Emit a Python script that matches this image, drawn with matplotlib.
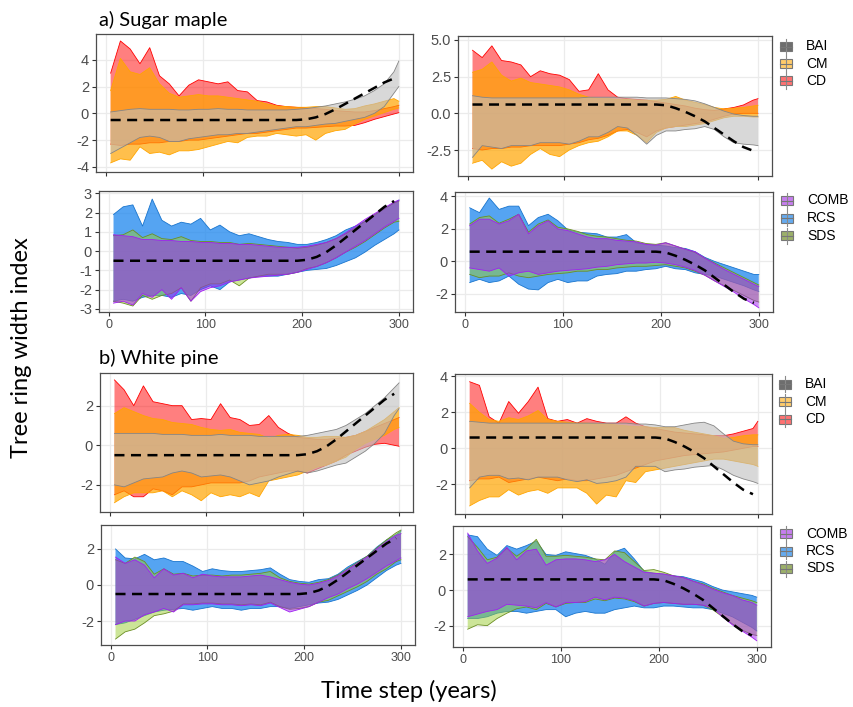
import matplotlib
matplotlib.use("Agg")
import matplotlib.pyplot as plt
from matplotlib.patches import Rectangle
from matplotlib.lines import Line2D

# --- datos (x cada 10 anos + 300) ---
X = [5, 15, 25, 35, 45, 55, 65, 75, 85, 95, 105, 115, 125, 135, 145, 155,
     165, 175, 185, 195, 205, 215, 225, 235, 245, 255, 265, 275, 285, 295, 300]

# senal verdadera (linea discontinua), de 5 a 295
TRUE_LEFT = [-0.5, -0.5, -0.5, -0.5, -0.5, -0.5, -0.5, -0.5, -0.5, -0.5,
             -0.5, -0.5, -0.5, -0.5, -0.5, -0.5, -0.5, -0.5, -0.5, -0.5,
             -0.45, -0.3, -0.05, 0.3, 0.7, 1.1, 1.5, 1.9, 2.3, 2.6]
TRUE_RIGHT = [0.6, 0.6, 0.6, 0.6, 0.6, 0.6, 0.6, 0.6, 0.6, 0.6,
              0.6, 0.6, 0.6, 0.6, 0.6, 0.6, 0.6, 0.6, 0.6, 0.6,
              0.55, 0.35, 0.1, -0.2, -0.55, -1.0, -1.45, -1.9, -2.3, -2.55]

# a) Sugar maple, arriba izquierda
p1_cd_hi = [3.0, 5.4, 4.8, 3.7, 4.9, 2.8, 2.2, 1.3, 2.1, 2.5, 2.35, 2.2, 2.35, 1.7, 1.6, 0.95,
            0.85, 0.6, 0.5, 0.45, 0.4, 0.35, 0.3, 0.2, 0.15, 0.1, 0.1, 0.2, 0.35, 0.5, 0.6]
p1_cd_lo = [-2.3, -2.4, -2.3, -2.3, -2.2, -2.2, -2.1, -2.1, -2.0, -2.0, -1.9, -1.8, -1.7, -1.6, -1.5, -1.5,
            -1.4, -1.3, -1.2, -1.1, -1.1, -1.05, -1.0, -0.95, -0.95, -0.9, -0.7, -0.45, -0.25, -0.05, 0.05]
p1_cm_hi = [1.7, 4.1, 3.1, 2.9, 3.4, 2.2, 1.5, 1.2, 1.3, 1.4, 1.3, 1.3, 1.2, 1.1, 1.0, 0.9,
            0.7, 0.55, 0.5, 0.45, 0.45, 0.5, 0.5, 0.4, 0.3, 0.35, 0.55, 0.7, 0.9, 1.1, 0.9]
p1_cm_lo = [-3.7, -3.4, -3.5, -2.5, -3.0, -2.9, -3.1, -2.8, -2.8, -2.7, -2.5, -2.3, -2.1, -2.2, -1.8, -1.7,
            -1.7, -1.5, -1.6, -1.7, -1.6, -2.0, -1.5, -1.3, -1.2, -0.8, -0.45, -0.2, 0.05, 0.3, 0.4]
p1_bai_hi = [0.1, 0.2, 0.3, 0.35, 0.3, 0.3, 0.3, 0.25, 0.25, 0.3, 0.3, 0.35, 0.3, 0.3, 0.25, 0.25,
             0.25, 0.25, 0.25, 0.3, 0.35, 0.45, 0.55, 0.7, 0.85, 1.05, 1.3, 1.7, 2.2, 3.1, 3.9]
p1_bai_lo = [-3.0, -2.6, -2.2, -1.8, -1.7, -1.8, -2.1, -2.1, -1.9, -1.8, -1.7, -1.6, -1.6, -1.5, -1.5, -1.4,
             -1.3, -1.2, -1.1, -1.0, -1.0, -0.9, -0.8, -0.75, -0.6, -0.45, -0.3, 0.0, 0.5, 1.5, 2.0]

# a) Sugar maple, arriba derecha
p2_cd_hi = [4.3, 3.8, 4.6, 3.6, 3.5, 3.3, 2.5, 2.9, 2.7, 2.6, 2.3, 1.5, 1.6, 2.7, 1.6, 1.1,
            1.0, 0.95, 0.9, 0.8, 0.7, 0.6, 0.5, 0.35, 0.25, 0.2, 0.3, 0.4, 0.57, 0.9, 1.0]
p2_cd_lo = [-2.4, -2.5, -2.4, -2.4, -2.3, -2.3, -2.2, -2.2, -2.2, -2.2, -2.1, -2.0, -1.8, -1.7, -1.5, -1.2,
            -1.1, -1.3, -1.6, -1.2, -1.0, -0.9, -0.8, -0.7, -0.6, -0.4, -0.2, -0.05, 0.0, 0.0, 0.0]
p2_cm_hi = [2.8, 3.0, 3.5, 2.6, 2.2, 2.4, 2.1, 2.0, 1.9, 1.8, 1.6, 1.3, 1.1, 1.0, 1.0, 0.95,
            0.95, 0.9, 0.9, 0.9, 0.95, 1.15, 0.9, 0.75, 0.6, 0.4, 0.3, 0.35, 0.4, 0.5, 0.55]
p2_cm_lo = [-3.4, -3.2, -3.8, -3.3, -3.6, -3.4, -2.8, -2.4, -2.8, -2.95, -2.5, -2.2, -2.0, -1.9, -1.6, -1.2,
            -1.2, -1.5, -2.0, -1.3, -1.0, -0.9, -0.9, -0.8, -0.7, -0.5, -0.3, -0.2, -0.2, -0.25, -0.25]
p2_bai_hi = [1.2, 1.1, 1.05, 1.05, 1.05, 1.05, 1.05, 1.05, 1.05, 1.05, 1.05, 1.05, 1.1, 1.1, 1.1, 1.1,
             1.1, 1.1, 1.05, 1.05, 1.05, 1.0, 0.95, 0.85, 0.65, 0.4, 0.15, -0.05, -0.15, -0.2, -0.2]
p2_bai_lo = [-3.0, -2.2, -2.3, -2.4, -2.2, -2.2, -2.2, -2.0, -2.0, -2.0, -2.1, -1.9, -1.6, -1.6, -1.3, -0.9,
             -1.0, -1.5, -2.1, -1.5, -1.2, -1.2, -1.1, -1.05, -0.9, -1.1, -1.6, -2.0, -2.1, -2.15, -2.2]

# a) Sugar maple, abajo izquierda
p3_rcs_hi = [1.9, 2.3, 2.4, 1.3, 2.7, 1.6, 1.3, 1.5, 1.4, 1.7, 1.1, 1.35, 1.0, 0.8, 0.9, 0.75,
             0.6, 0.5, 0.45, 0.35, 0.35, 0.45, 0.6, 0.8, 1.1, 1.3, 1.55, 1.85, 2.2, 2.5, 2.65]
p3_rcs_lo = [-2.6, -2.5, -2.6, -2.4, -2.3, -2.3, -2.4, -2.2, -2.3, -2.0, -1.8, -2.0, -1.6, -1.5, -1.4, -1.3,
             -1.3, -1.3, -1.2, -1.1, -1.0, -0.95, -0.9, -0.75, -0.55, -0.35, -0.05, 0.3, 0.6, 0.9, 1.1]
p3_sds_hi = [0.8, 0.85, 1.1, 0.7, 0.9, 0.65, 0.6, 0.75, 0.55, 0.5, 0.5, 0.45, 0.45, 0.35, 0.4, 0.35,
             0.3, 0.25, 0.2, 0.15, 0.2, 0.3, 0.45, 0.65, 0.9, 1.2, 1.55, 1.9, 2.2, 2.5, 2.6]
p3_sds_lo = [-2.6, -2.7, -2.85, -2.3, -2.5, -2.3, -2.2, -1.9, -2.6, -1.9, -1.7, -1.7, -1.5, -1.8, -1.4, -1.3,
             -1.2, -1.2, -1.2, -1.1, -0.9, -0.8, -0.6, -0.35, -0.05, 0.2, 0.5, 0.85, 1.2, 1.5, 1.55]
p3_comb_hi = [0.85, 0.8, 0.75, 0.6, 0.6, 0.55, 0.55, 0.5, 0.5, 0.45, 0.45, 0.4, 0.4, 0.35, 0.35, 0.3,
              0.25, 0.2, 0.2, 0.2, 0.25, 0.35, 0.45, 0.65, 0.95, 1.3, 1.65, 1.95, 2.25, 2.55, 2.65]
p3_comb_lo = [-2.7, -2.6, -2.8, -2.2, -2.4, -2.0, -2.5, -1.9, -2.6, -2.1, -1.9, -1.8, -1.6, -1.5, -1.4, -1.35,
              -1.3, -1.25, -1.2, -1.1, -0.95, -0.8, -0.6, -0.35, -0.05, 0.25, 0.55, 0.9, 1.25, 1.55, 1.7]

# a) Sugar maple, abajo derecha
p4_rcs_hi = [3.3, 3.0, 3.9, 3.2, 3.4, 3.4, 2.2, 2.7, 2.9, 2.5, 1.95, 1.8, 1.75, 1.7, 1.5, 1.5,
             1.65, 1.15, 1.05, 1.0, 0.95, 0.85, 0.8, 0.6, 0.25, 0.0, -0.2, -0.4, -0.6, -0.8, -0.8]
p4_rcs_lo = [-1.3, -1.1, -1.3, -1.2, -0.9, -1.4, -1.7, -1.75, -1.3, -1.1, -1.3, -1.2, -1.2, -0.9, -0.8, -0.75,
             -0.6, -0.6, -0.5, -0.45, -0.3, -0.45, -0.5, -0.7, -0.8, -0.9, -1.1, -1.3, -1.5, -1.75, -1.85]
p4_sds_hi = [2.3, 2.7, 2.8, 2.35, 2.6, 2.9, 1.8, 2.3, 2.55, 2.1, 2.0, 1.85, 1.65, 1.55, 1.5, 1.4,
             1.3, 1.25, 1.1, 1.05, 1.15, 0.95, 0.75, 0.55, 0.2, -0.1, -0.4, -0.7, -1.0, -1.3, -1.45]
p4_sds_lo = [-0.8, -1.0, -0.9, -0.9, -0.7, -0.9, -1.0, -0.9, -0.8, -0.75, -0.7, -0.6, -0.6, -0.5, -0.5, -0.4,
             -0.35, -0.3, -0.3, -0.25, -0.2, -0.3, -0.4, -0.6, -0.85, -1.2, -1.5, -1.8, -2.1, -2.4, -2.5]
p4_comb_hi = [2.2, 2.6, 2.6, 2.3, 2.5, 2.9, 1.7, 2.2, 2.5, 2.0, 1.9, 1.7, 1.5, 1.4, 1.4, 1.3,
              1.25, 1.2, 1.05, 1.0, 1.15, 0.95, 0.75, 0.6, 0.2, -0.15, -0.5, -0.8, -1.1, -1.4, -1.55]
p4_comb_lo = [-0.4, -0.5, -0.6, -0.4, -0.9, -0.7, -0.6, -0.8, -0.7, -0.6, -0.55, -0.5, -0.45, -0.35, -0.3, -0.2,
              -0.15, -0.1, -0.1, -0.05, -0.1, -0.2, -0.35, -0.55, -0.85, -1.2, -1.55, -1.9, -2.3, -2.65, -2.85]

# b) White pine, arriba izquierda
p5_cd_hi = [3.3, 2.8, 2.0, 3.0, 2.2, 2.1, 2.0, 2.0, 1.3, 1.35, 1.3, 2.1, 1.4, 1.3, 1.0, 1.05,
            1.5, 0.9, 0.6, 0.4, 0.35, 0.3, 0.3, 0.35, 0.4, 0.5, 0.7, 0.9, 1.1, 1.3, 1.4]
p5_cd_lo = [-2.5, -2.3, -2.6, -2.6, -2.2, -2.3, -2.5, -2.1, -2.1, -2.0, -1.9, -1.9, -1.9, -1.9, -1.8, -1.6,
            -1.5, -1.4, -1.3, -1.3, -1.4, -1.2, -1.0, -0.8, -0.5, -0.3, -0.1, 0.05, 0.1, 0.0, -0.05]
p5_cm_hi = [1.6, 1.9, 1.7, 1.5, 1.35, 1.3, 1.15, 1.1, 1.05, 0.9, 0.8, 0.75, 0.8, 0.65, 0.6, 0.55,
            0.35, 0.5, 0.55, 0.5, 0.4, 0.4, 0.45, 0.45, 0.4, 0.5, 0.7, 1.0, 1.3, 1.7, 1.9]
p5_cm_lo = [-2.9, -2.6, -2.4, -2.4, -2.4, -2.3, -2.6, -2.3, -2.5, -2.8, -2.4, -2.6, -2.5, -2.6, -2.4, -2.6,
            -1.8, -1.7, -1.6, -1.5, -1.3, -1.1, -1.0, -0.8, -0.6, -0.2, 0.1, 0.3, 0.5, 0.8, 0.9]
p5_bai_hi = [0.6, 0.6, 0.6, 0.6, 0.6, 0.55, 0.55, 0.55, 0.5, 0.5, 0.5, 0.55, 0.5, 0.5, 0.5, 0.45,
             0.45, 0.45, 0.45, 0.45, 0.5, 0.6, 0.7, 0.8, 1.0, 1.3, 1.6, 2.0, 2.4, 2.9, 3.15]
p5_bai_lo = [-2.0, -2.1, -1.9, -1.7, -1.65, -1.6, -1.4, -1.3, -1.4, -1.6, -1.55, -1.5, -1.6, -1.8, -2.0, -1.9,
             -1.8, -1.6, -1.45, -1.3, -1.4, -1.3, -1.15, -1.0, -0.9, -0.6, -0.3, 0.1, 0.6, 1.5, 1.85]

# b) White pine, arriba derecha
p6_cd_hi = [3.7, 3.5, 1.75, 1.4, 2.6, 1.95, 2.6, 3.4, 1.65, 1.5, 1.6, 1.4, 1.65, 1.5, 1.4, 1.4,
            1.75, 1.4, 1.2, 1.1, 1.0, 0.9, 0.85, 0.8, 0.75, 0.7, 0.7, 0.8, 0.95, 1.1, 1.5]
p6_cd_lo = [-1.8, -1.7, -1.7, -1.6, -1.9, -1.8, -1.7, -1.6, -1.7, -1.8, -1.7, -1.8, -1.8, -1.7, -1.6, -1.5,
            -1.3, -1.1, -0.9, -0.7, -0.6, -0.5, -0.4, -0.35, -0.3, -0.25, -0.2, -0.1, 0.0, 0.1, 0.1]
p6_cm_hi = [2.5, 2.0, 1.6, 1.5, 1.7, 1.6, 1.8, 2.1, 1.6, 1.5, 1.45, 1.4, 1.4, 1.35, 1.35, 1.3,
            1.25, 1.2, 1.2, 1.15, 1.15, 1.15, 1.0, 0.9, 0.8, 0.7, 0.55, 0.6, 0.7, 0.75, 0.75]
p6_cm_lo = [-3.2, -2.9, -2.7, -2.7, -2.3, -2.6, -2.4, -2.3, -2.5, -2.2, -2.2, -2.2, -2.5, -3.1, -2.6, -2.7,
            -1.8, -1.9, -1.3, -1.2, -1.1, -1.0, -0.9, -0.8, -0.7, -0.6, -0.6, -0.7, -0.8, -0.9, -1.0]
p6_bai_hi = [1.5, 1.45, 1.4, 1.4, 1.4, 1.4, 1.4, 1.4, 1.4, 1.4, 1.4, 1.4, 1.4, 1.4, 1.4, 1.4,
             1.4, 1.35, 1.35, 1.3, 1.2, 1.2, 1.3, 1.4, 1.45, 1.25, 0.8, 0.4, 0.25, 0.2, 0.2]
p6_bai_lo = [-2.2, -1.6, -1.5, -1.5, -1.7, -1.65, -1.75, -1.6, -1.6, -1.6, -1.75, -1.85, -1.75, -1.95, -1.9, -1.8,
             -1.6, -1.0, -1.0, -1.0, -1.3, -1.2, -1.15, -1.05, -1.0, -0.95, -1.2, -1.5, -1.7, -1.85, -1.95]

# b) White pine, abajo izquierda
p7_rcs_hi = [2.0, 1.5, 1.45, 1.7, 1.4, 1.5, 1.3, 1.3, 1.05, 0.75, 0.9, 0.8, 0.75, 0.75, 0.8, 0.85,
             0.95, 0.6, 0.3, 0.2, 0.15, 0.3, 0.35, 0.6, 1.0, 1.3, 1.6, 2.1, 2.5, 2.8, 3.0]
p7_rcs_lo = [-2.2, -2.1, -1.9, -1.7, -1.5, -1.4, -1.35, -1.3, -1.4, -1.3, -1.2, -1.3, -1.3, -1.4, -1.3, -1.3,
             -1.2, -1.2, -1.3, -1.2, -1.1, -1.0, -0.95, -0.8, -0.55, -0.3, 0.0, 0.4, 0.8, 1.1, 1.2]
p7_sds_hi = [1.4, 1.2, 1.55, 1.3, 0.6, 0.9, 0.6, 0.65, 0.5, 0.55, 0.55, 0.5, 0.55, 0.55, 0.6, 0.65,
             0.75, 0.4, 0.2, 0.1, 0.05, 0.15, 0.3, 0.55, 0.9, 1.25, 1.6, 2.05, 2.5, 2.9, 3.05]
p7_sds_lo = [-3.0, -2.6, -2.45, -2.1, -1.7, -1.6, -1.45, -1.05, -1.05, -1.0, -1.0, -1.05, -1.05, -1.1, -1.05, -1.1,
             -0.95, -1.2, -1.35, -1.3, -1.2, -0.95, -0.85, -0.6, -0.35, -0.1, 0.2, 0.6, 0.9, 1.3, 1.4]
p7_comb_hi = [1.55, 1.2, 1.4, 1.1, 0.4, 0.9, 0.55, 0.65, 0.4, 0.6, 0.5, 0.45, 0.45, 0.45, 0.5, 0.55,
              0.45, 0.3, 0.15, 0.05, 0.0, 0.1, 0.25, 0.5, 0.85, 1.2, 1.55, 2.0, 2.4, 2.75, 2.85]
p7_comb_lo = [-2.2, -2.0, -2.0, -1.65, -1.5, -1.3, -1.5, -1.1, -1.1, -1.05, -1.05, -1.1, -1.1, -1.15, -1.1, -1.15,
              -1.0, -1.25, -1.5, -1.35, -1.2, -0.95, -0.7, -0.5, -0.2, 0.05, 0.35, 0.7, 1.05, 1.35, 1.5]

# b) White pine, abajo derecha
p8_rcs_hi = [3.1, 3.0, 2.3, 1.95, 2.5, 2.3, 2.5, 2.75, 2.0, 1.95, 2.15, 2.05, 1.95, 1.75, 1.45, 2.15,
             2.35, 1.75, 1.05, 0.95, 0.9, 0.8, 0.75, 0.6, 0.45, 0.2, 0.0, -0.1, -0.2, -0.3, -0.4]
p8_rcs_lo = [-1.6, -1.6, -1.5, -1.3, -1.2, -1.2, -1.3, -1.2, -1.1, -1.1, -1.5, -1.3, -1.2, -1.3, -1.3, -1.1,
             -1.0, -0.9, -1.0, -1.0, -0.9, -0.9, -0.95, -1.0, -1.0, -1.1, -1.3, -1.5, -1.8, -2.1, -2.3]
p8_sds_hi = [3.0, 2.4, 1.7, 1.85, 2.35, 1.9, 2.3, 2.85, 1.9, 1.9, 1.95, 1.9, 1.85, 1.75, 1.7, 2.2,
             2.1, 1.6, 1.1, 1.15, 1.0, 0.8, 0.7, 0.5, 0.35, 0.1, -0.1, -0.3, -0.45, -0.6, -0.7]
p8_sds_lo = [-2.2, -1.95, -2.0, -1.6, -1.3, -1.05, -0.95, -1.1, -0.75, -0.95, -0.75, -0.7, -0.7, -0.5, -0.6, -0.45,
             -0.5, -0.65, -0.9, -0.75, -0.7, -0.75, -0.8, -0.8, -0.85, -1.1, -1.5, -1.9, -2.25, -2.5, -2.55]
p8_comb_hi = [3.2, 2.2, 1.5, 1.8, 2.4, 1.7, 2.2, 2.3, 1.4, 1.7, 1.75, 1.75, 1.7, 1.6, 1.7, 2.0,
              1.6, 1.3, 1.0, 0.95, 0.9, 0.8, 0.7, 0.5, 0.3, 0.05, -0.15, -0.3, -0.55, -0.7, -0.85]
p8_comb_lo = [-1.5, -1.35, -1.2, -1.1, -0.8, -0.85, -0.9, -1.0, -0.7, -0.95, -0.7, -0.7, -0.65, -0.4, -0.55, -0.4,
              -0.45, -0.6, -0.9, -0.75, -0.7, -0.75, -0.8, -0.8, -0.85, -1.0, -1.5, -1.95, -2.3, -2.65, -2.85]

# --- estilos ---
# (relleno, alpha, borde, color de la leyenda)
ESTILO = {
    "CD": ("#FF0000", 0.5, "#FF0000", "#FF7272"),
    "CM": ("#FFA500", 0.7, "#FFA500", "#FFCB6B"),
    "BAI": ("#BEBEBE", 0.6, "#858585", "#6E6E6E"),
    "RCS": ("#1C86EE", 0.75, "#1874CD", "#66AAEE"),
    "SDS": ("#9ACD32", 0.5, "#6B8E23", "#9CB06A"),
    "COMB": ("#A020F0", 0.5, "#A020F0", "#C67EEE"),
}

W, H = 854, 707
fig = plt.figure(figsize=(W / 100, H / 100), dpi=100)
fig.patch.set_facecolor("white")

TICKF = "Liberation Sans"
TXTF = "Lato"


def px_axes(left, top, right, bottom):
    return fig.add_axes([left / W, 1 - bottom / H, (right - left) / W, (bottom - top) / H])


def draw_legend(x, y0, step, labels):
    for k, lab in enumerate(labels):
        y = y0 + k * step
        edge = "#8A8A8A"
        face = ESTILO[lab][3]
        fig.add_artist(Line2D([x / W, x / W], [1 - (y - 8) / H, 1 - (y + 8) / H],
                              color=edge, lw=0.8, transform=fig.transFigure))
        fig.add_artist(Rectangle(((x - 6) / W, 1 - (y + 4.5) / H), 12 / W, 9 / H,
                                 facecolor=face, edgecolor="#777777", lw=0.8,
                                 transform=fig.transFigure))
        fig.add_artist(Line2D([(x - 6) / W, (x + 6) / W], [1 - y / H, 1 - y / H],
                              color="#777777", lw=0.8, transform=fig.transFigure))
        fig.text((x + 20) / W, 1 - y / H, lab, ha="left", va="center",
                 fontsize=10, family=TICKF, color="black")


paneles = [
    # frame px (l, t, r, b), ylim, yticks, labels, x labels, series, truth
    ((96, 34, 413, 172), (-4.38, 5.92), [-4, -2, 0, 2, 4], ["-4", "-2", "0", "2", "4"], False,
     [("CD", p1_cd_lo, p1_cd_hi), ("CM", p1_cm_lo, p1_cm_hi), ("BAI", p1_bai_lo, p1_bai_hi)], TRUE_LEFT),
    ((458, 36, 772, 176), (-4.27, 5.27), [-2.5, 0, 2.5, 5], ["-2.5", "0.0", "2.5", "5.0"], False,
     [("CD", p2_cd_lo, p2_cd_hi), ("CM", p2_cm_lo, p2_cm_hi), ("BAI", p2_bai_lo, p2_bai_hi)], TRUE_RIGHT),
    ((99, 191, 413, 312), (-3.16, 3.12), [-3, -2, -1, 0, 1, 2, 3], ["-3", "-2", "-1", "0", "1", "2", "3"], True,
     [("RCS", p3_rcs_lo, p3_rcs_hi), ("SDS", p3_sds_lo, p3_sds_hi), ("COMB", p3_comb_lo, p3_comb_hi)], TRUE_LEFT),
    ((455, 192, 773, 312), (-3.11, 4.27), [-2, 0, 2, 4], ["-2", "0", "2", "4"], True,
     [("RCS", p4_rcs_lo, p4_rcs_hi), ("SDS", p4_sds_lo, p4_sds_hi), ("COMB", p4_comb_lo, p4_comb_hi)], TRUE_RIGHT),
    ((100, 373, 413, 512), (-3.37, 3.65), [-2, 0, 2], ["-2", "0", "2"], False,
     [("CD", p5_cd_lo, p5_cd_hi), ("CM", p5_cm_lo, p5_cm_hi), ("BAI", p5_bai_lo, p5_bai_hi)], TRUE_LEFT),
    ((455, 374, 772, 514), (-3.65, 4.13), [-2, 0, 2, 4], ["-2", "0", "2", "4"], False,
     [("CD", p6_cd_lo, p6_cd_hi), ("CM", p6_cm_lo, p6_cm_hi), ("BAI", p6_bai_lo, p6_bai_hi)], TRUE_RIGHT),
    ((101, 525, 415, 645), (-3.33, 3.33), [-2, 0, 2], ["-2", "0", "2"], True,
     [("RCS", p7_rcs_lo, p7_rcs_hi), ("SDS", p7_sds_lo, p7_sds_hi), ("COMB", p7_comb_lo, p7_comb_hi)], TRUE_LEFT),
    ((453, 526, 771, 647), (-3.2, 3.6), [-2, 0, 2], ["-2", "0", "2"], True,
     [("RCS", p8_rcs_lo, p8_rcs_hi), ("SDS", p8_sds_lo, p8_sds_hi), ("COMB", p8_comb_lo, p8_comb_hi)], TRUE_RIGHT),
]

for frame, ylim, yt, ytl, xlab, series, truth in paneles:
    ax = px_axes(*frame)
    for nombre, lo, hi in series:
        fc, a, ec, _ = ESTILO[nombre]
        ax.fill_between(X, lo, hi, facecolor=fc, alpha=a, lw=0, zorder=2)
        ax.plot(X, hi, color=ec, lw=0.6, zorder=2)
        ax.plot(X, lo, color=ec, lw=0.6, zorder=2)
    ax.plot(X[:-1], truth, color="black", lw=1.8, ls=(0, (4, 2.6)), zorder=5)

    ax.set_xlim(-10, 314.5)
    ax.set_ylim(*ylim)
    ax.set_xticks([0, 100, 200, 300])
    ax.set_yticks(yt)
    ax.set_yticklabels(ytl, fontsize=10.5, family=TICKF, color="#4D4D4D")
    if xlab:
        ax.set_xticklabels(["0", "100", "200", "300"], fontsize=9, family=TICKF, color="#4D4D4D")
    else:
        ax.set_xticklabels([])
    ax.grid(True, color="#EBEBEB", lw=0.9, zorder=0)
    ax.set_axisbelow(True)
    ax.tick_params(length=3, width=0.8, color="#333333", pad=2)
    for s in ax.spines.values():
        s.set_color("#4D4D4D")
        s.set_linewidth(0.9)

draw_legend(786, 46.5, 17.2, ["BAI", "CM", "CD"])
draw_legend(787, 200.5, 17.7, ["COMB", "RCS", "SDS"])
draw_legend(785, 384, 17.6, ["BAI", "CM", "CD"])
draw_legend(786, 533.5, 17.5, ["COMB", "RCS", "SDS"])

fig.text(99 / W, 1 - 26 / H, "a) Sugar maple", ha="left", va="baseline", fontsize=14.5, family=TXTF)
fig.text(99 / W, 1 - 364 / H, "b) White pine", ha="left", va="baseline", fontsize=14.5, family=TXTF)
fig.text(22 / W, 1 - 348 / H, "Tree ring width index", ha="center", va="center", rotation=90,
         fontsize=17, family=TXTF)
fig.text(409 / W, 1 - 698 / H, "Time step (years)", ha="center", va="baseline", fontsize=17, family=TXTF)

fig.savefig("out.png", dpi=100, facecolor="white")
